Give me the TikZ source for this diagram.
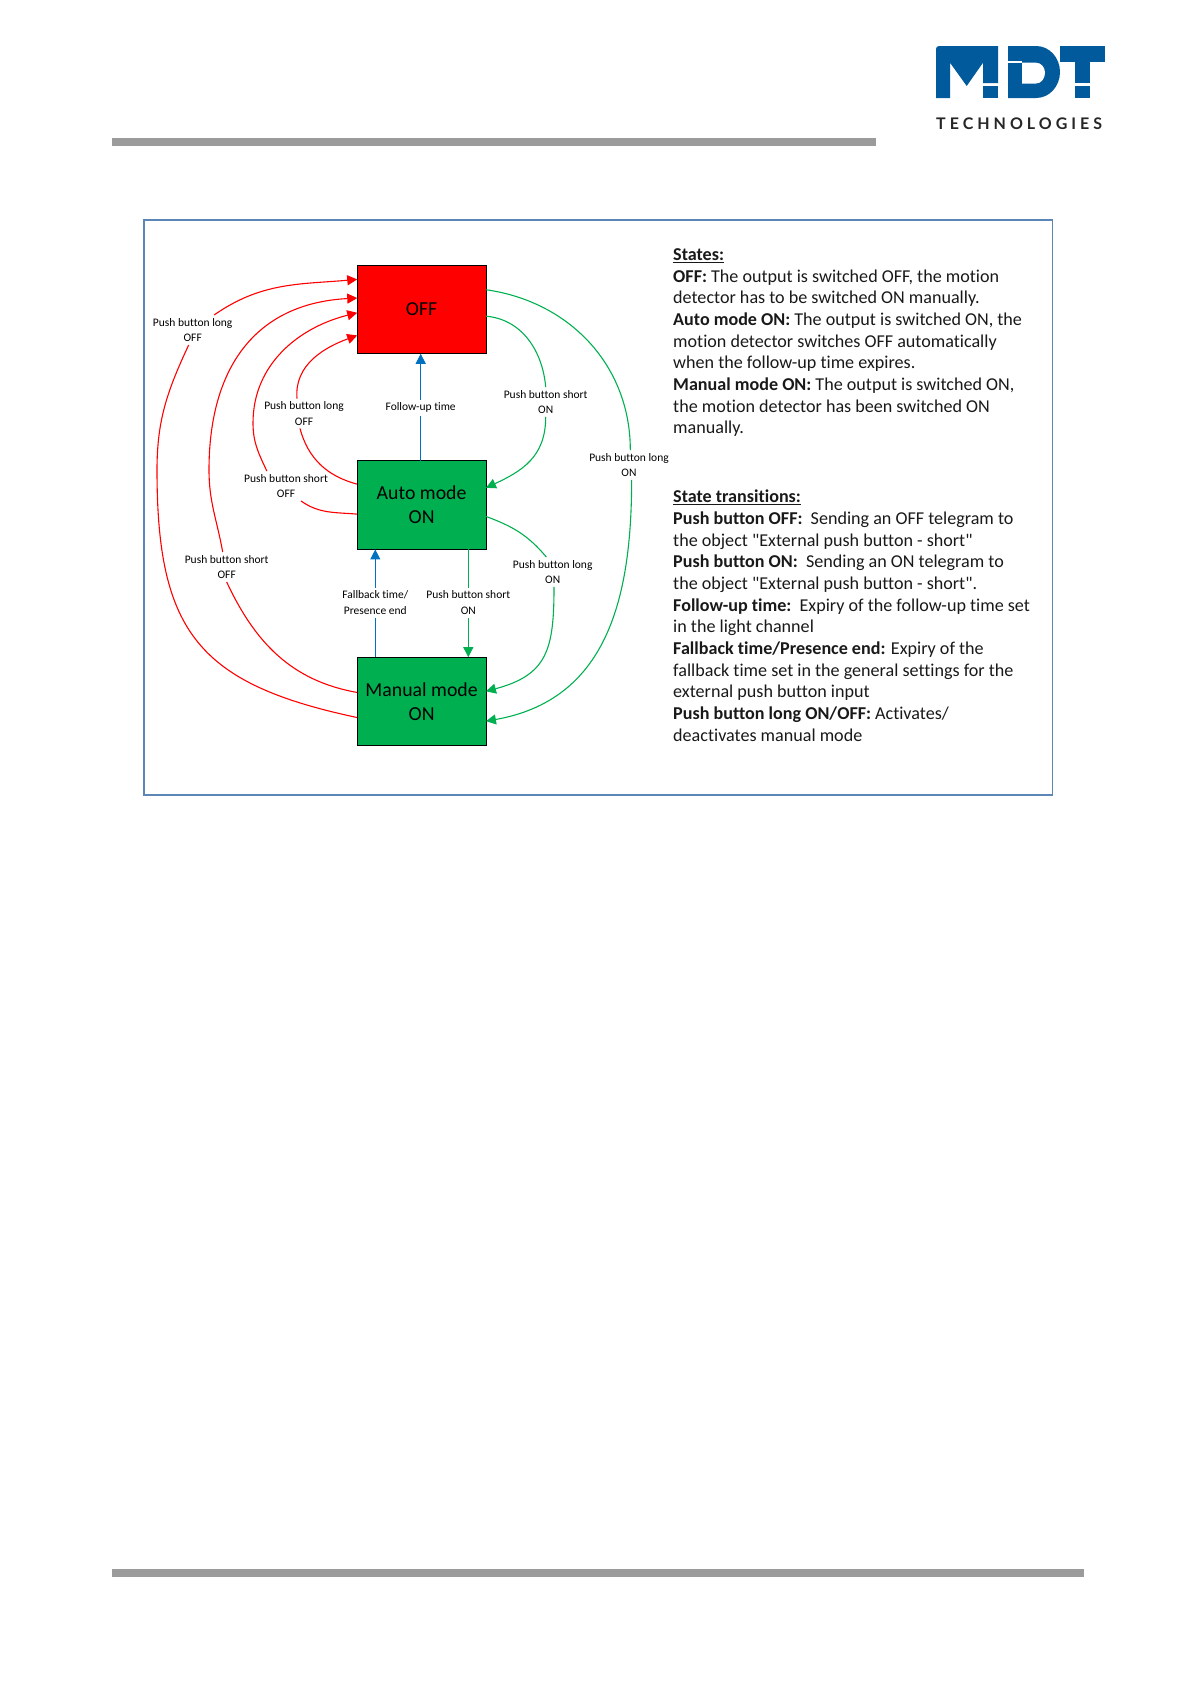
\documentclass[tikz,border=0pt]{standalone}
\usepackage{fontspec}
\setmainfont{Carlito}[Ligatures={NoCommon}]
\newfontfamily\logofont[LetterSpace=25]{Lato}
\usepackage{xcolor}
\usetikzlibrary{positioning,arrows.meta}
\definecolor{offred}{HTML}{FF0000}
\definecolor{ongreen}{HTML}{00B050}
\definecolor{timeblue}{HTML}{0070C0}
\definecolor{framblue}{HTML}{5B86B5}
\definecolor{rulegrey}{HTML}{9B9B9B}
\definecolor{logoblue}{HTML}{005A9C}
\definecolor{logodark}{HTML}{262626}
\newcommand{\heading}[1]{\underline{\textbf{#1}}}

\begin{document}
\begin{tikzpicture}[
  x=1pt, y=1pt,
  statebox/.style={rectangle, draw=black, line width=0.8pt, minimum width=128.7pt, minimum height=88.7pt, inner sep=0pt, outer sep=0pt, align=center, font=\fontsize{19.8}{24}\selectfont},
  edgelabel/.style={inner xsep=1pt, inner ysep=3pt, align=center, font=\fontsize{11.5}{15.5}\selectfont},
  infotext/.style={anchor=north west, inner sep=0pt, align=left, font=\fontsize{18.1}{21.65}\selectfont, text=black!90},
  redline/.style={draw=offred, line width=1.1pt},
  redarr/.style={redline, -{Triangle[length=10pt,width=10pt]}},
  greenline/.style={draw=ongreen, line width=1.1pt},
  greenarr/.style={greenline, -{Triangle[length=10pt,width=10pt]}},
  blueline/.style={draw=timeblue, line width=1.1pt},
  bluearr/.style={blueline, -{Triangle[length=10pt,width=10pt]}}
]
\useasboundingbox (0,0) rectangle (1191,-1684);
% page rules and frame
\fill[rulegrey] (112,-137.5) rectangle (876,-145.5);
\fill[rulegrey] (112,-1569) rectangle (1084,-1577);
\draw[framblue, line width=1.2pt] (144,-220) rectangle (1052.7,-795);
% logo
\fill[logoblue] (936,-98) -- (936,-49) to[out=90,in=180] (939,-46) -- (998,-46) -- (998,-83) -- (983,-83) -- (983,-62.7) -- (966.7,-86) -- (950,-62.7) -- (950,-98) -- cycle;
\fill[logoblue] (983,-85.7) rectangle (998,-98);
\fill[logoblue] (1008,-46) -- (1036,-46) to[out=0,in=90] (1060,-72) to[out=-90,in=0] (1036,-98) -- (1008,-98) -- cycle;
\fill[white] (1022,-62.7) -- (1036,-62.7) to[out=0,in=90] (1045,-72.7) to[out=-90,in=0] (1036,-83.5) -- (1022,-83.5) -- cycle;
\fill[white] (1008,-60.7) rectangle (1022,-62.7);
\fill[logoblue] (1060,-46) rectangle (1105,-61.7);
\fill[logoblue] (1075,-61.7) rectangle (1090,-83);
\fill[logoblue] (1075,-85.7) rectangle (1090,-98);
\node[anchor=west, inner sep=0pt, text=logodark, font=\logofont\bfseries\fontsize{16}{16}\selectfont] (brand) at (936,-124) {TECHNOLOGIES};
% states
\node[statebox, fill=offred] (off) at (421.6,-309.4) {OFF};
\node[statebox, fill=ongreen, below=107pt of off] (auto) {Auto mode\\ON};
\node[statebox, fill=ongreen, below=107.7pt of auto] (manual) {Manual mode\\ON};
% labels on the transitions
\node[edgelabel] (lblA) at (192.7,-330) {Push button long\\OFF};
\node[edgelabel] (lblB) at (226.7,-567) {Push button short\\OFF};
\node[edgelabel] (lblC) at (286,-486) {Push button short\\OFF};
\node[edgelabel] (lblD) at (304,-413.5) {Push button long\\OFF};
\node[edgelabel] (lblE) at (545.7,-402) {Push button short\\ON};
\node[edgelabel] (lblF) at (629,-465) {Push button long\\ON};
\node[edgelabel] (lblG) at (552.7,-572) {Push button long\\ON};
\node[edgelabel] (lblH) at (468.3,-602.7) {Push button short\\ON};
\node[edgelabel] (lblI) at (375.3,-602.7) {Fallback time/\\Presence end};
\node[edgelabel] (lblJ) at (420.7,-407.7) {Follow-up time};
\coordinate (bendA) at (157,-470);
\coordinate (bendB) at (209,-470);
\coordinate (bendC) at (253,-423);
% to OFF
\draw[redline] (manual.194.8) to[out=168,in=-90,looseness=1.3] (bendA) to[out=90,in=-115] (lblA.-105);
\draw[redarr] (lblA.35) to[out=35,in=185] (off.155.4);
\draw[redline] (manual.172) to[out=170,in=-65] (lblB.-90);
\draw[redarr] (lblB.105) to[out=100,in=-90] (bendB) to[out=90,in=183,looseness=1.15] (off.170.2);
\draw[redline] (auto.188.8) to[out=175,in=-35] (lblC.-45);
\draw[redarr] (lblC.142) to[out=115,in=-90] (bendC) to[out=90,in=194] (off.183.2);
\draw[redline] (auto.162.2) to[out=165,in=-75] (lblD.-105);
\draw[redarr] (lblD.115) to[out=95,in=200] (off.202.5);
% to Auto mode and Manual mode
\draw[greenline] (off.-6.5) to[out=-5,in=95] (lblE.90);
\draw[greenarr] (lblE.-90) to[out=-90,in=25,looseness=1.1] (auto.15.6);
\draw[greenline] (off.17.8) to[out=-8,in=90] (lblF.85);
\draw[greenarr] (lblF.-80) to[out=-90,in=10,looseness=1.1] (manual.-17.6);
\draw[greenline] (auto.-10.3) to[out=-20,in=130] (lblG.113);
\draw[greenarr] (lblG.-85) to[out=-90,in=15,looseness=1.3] (manual.9.4);
\draw[greenline] (auto.south -| lblH) -- (lblH); \draw[greenarr] (lblH) -- (manual.north -| lblH);
\draw[blueline] (manual.north -| lblI) -- (lblI); \draw[bluearr] (lblI) -- (auto.south -| lblI);
\draw[blueline, line width=0.8pt] (auto.north -| lblJ) -- (lblJ); \draw[bluearr, line width=0.8pt] (lblJ) -- (off.south -| lblJ);
% explanations
\node[infotext] (statesinfo) at (673,-248.5) {\heading{States:}\\
\textbf{OFF:} The output is switched OFF, the motion\\
detector has to be switched ON manually.\\
\textbf{Auto mode ON:} The output is switched ON, the\\
motion detector switches OFF automatically\\
when the follow-up time expires.\\
\textbf{Manual mode ON:} The output is switched ON,\\
the motion detector has been switched ON\\
manually.};
\node[infotext] (transinfo) at (673,-490) {\heading{State transitions:}\\
\textbf{Push button OFF:}\ \ Sending an OFF telegram to\\
the object \textquotedbl External push button - short\textquotedbl\\
\textbf{Push button ON:}\ \ Sending an ON telegram to\\
the object \textquotedbl External push button - short\textquotedbl.\\
\textbf{Follow-up time:}\ \ Expiry of the follow-up time set\\
in the light channel\\
\textbf{Fallback time/Presence end:} Expiry of the\\
fallback time set in the general settings for the\\
external push button input\\
\textbf{Push button long ON/OFF:} Activates/\\
deactivates manual mode};
\end{tikzpicture}
\end{document}
